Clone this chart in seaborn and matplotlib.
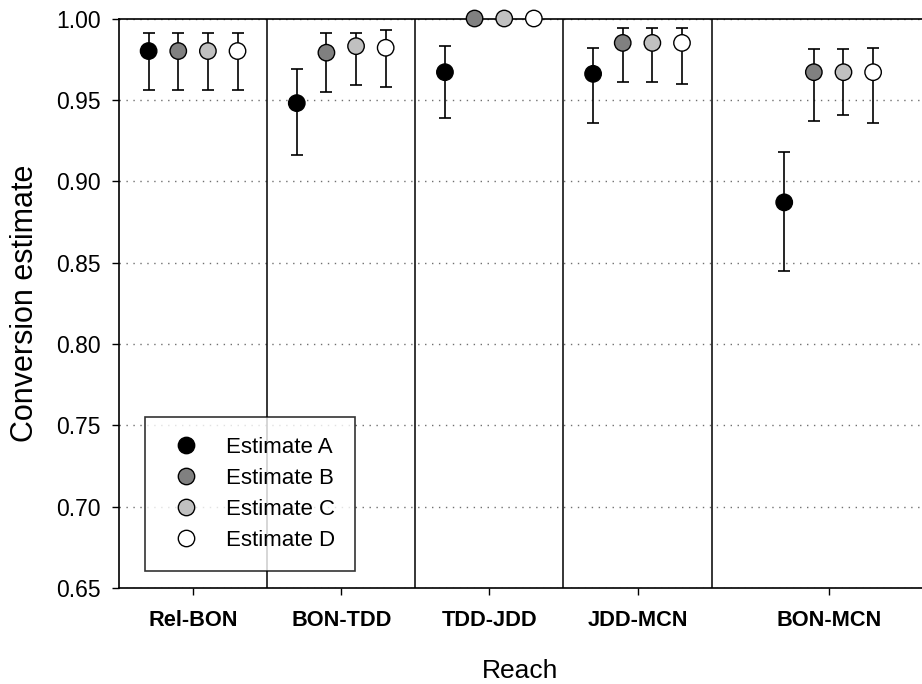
#!/usr/bin/env python3
"""
Conversion estimates per reach (A-D) with error bars
"""

import numpy as np
import pandas as pd
import matplotlib
matplotlib.use('Agg')
import matplotlib.pyplot as plt
from matplotlib.lines import Line2D
import seaborn as sns

# Datos
reaches = ['Rel-BON', 'BON-TDD', 'TDD-JDD', 'JDD-MCN', 'BON-MCN']
reach_pos = [0, 1, 2, 3, 4.29]
estimates = ['Estimate A', 'Estimate B', 'Estimate C', 'Estimate D']

est_a = [0.980, 0.948, 0.967, 0.966, 0.887]
est_a_lo = [0.956, 0.916, 0.939, 0.936, 0.845]
est_a_hi = [0.991, 0.969, 0.983, 0.982, 0.918]

est_b = [0.980, 0.979, 1.000, 0.985, 0.967]
est_b_lo = [0.956, 0.955, np.nan, 0.961, 0.937]
est_b_hi = [0.991, 0.991, np.nan, 0.994, 0.981]

est_c = [0.980, 0.983, 1.000, 0.985, 0.967]
est_c_lo = [0.956, 0.959, np.nan, 0.961, 0.941]
est_c_hi = [0.991, 0.991, np.nan, 0.994, 0.981]

est_d = [0.980, 0.982, 1.000, 0.985, 0.967]
est_d_lo = [0.956, 0.958, np.nan, 0.960, 0.936]
est_d_hi = [0.991, 0.993, np.nan, 0.994, 0.982]

colors = {'Estimate A': 'black', 'Estimate B': '#808080',
          'Estimate C': '#c0c0c0', 'Estimate D': 'white'}
offsets = [-0.3, -0.1, 0.1, 0.3]

# Construir tabla larga
rows = []
series = [(est_a, est_a_lo, est_a_hi), (est_b, est_b_lo, est_b_hi),
          (est_c, est_c_lo, est_c_hi), (est_d, est_d_lo, est_d_hi)]
for name, off, (vals, lo, hi) in zip(estimates, offsets, series):
    for i, r in enumerate(reaches):
        rows.append({'Reach': r, 'Estimate': name, 'x': reach_pos[i] + off,
                     'value': vals[i], 'lo': lo[i], 'hi': hi[i]})
df = pd.DataFrame(rows)

sns.set_style('white')
plt.rcParams['font.family'] = ['Liberation Sans', 'DejaVu Sans']
plt.rcParams['text.color'] = 'black'
plt.rcParams['axes.labelcolor'] = 'black'
plt.rcParams['xtick.color'] = 'black'
plt.rcParams['ytick.color'] = 'black'

fig = plt.figure(figsize=(9.22, 6.84), dpi=100)
ax = fig.add_axes([119 / 922, 1 - 588 / 684, 1 - 119 / 922, (588 - 18.5) / 684])

# Lineas de cuadricula punteadas
ax.yaxis.grid(True, linestyle=(0, (1, 4)), color='#707070', linewidth=1)
ax.set_axisbelow(True)

# Separadores entre tramos
for sep in [0.5, 1.5, 2.5, 3.5]:
    ax.axvline(sep, color='black', linewidth=1.1, zorder=1.5)

# Barras de error
for name in estimates:
    sub = df[df['Estimate'] == name]
    ax.errorbar(sub['x'], sub['value'],
                yerr=[sub['value'] - sub['lo'], sub['hi'] - sub['value']],
                fmt='none', ecolor='black', elinewidth=1.2, capsize=4,
                capthick=1.2, zorder=2)

sns.scatterplot(data=df, x='x', y='value', hue='Estimate', palette=colors,
                hue_order=estimates, s=140, edgecolor='black', linewidth=1,
                legend=False, ax=ax, zorder=3, clip_on=False)

ax.set_xlim(-0.5, 4.92)
ax.set_ylim(0.65, 1.00)
ax.set_yticks(np.arange(0.65, 1.001, 0.05))
ax.set_yticklabels([f'{v:.2f}' for v in np.arange(0.65, 1.001, 0.05)])
ax.set_xticks(reach_pos)
ax.set_xticklabels(reaches, fontweight='bold')

ax.tick_params(axis='y', direction='out', length=5, width=1, labelsize=16.5,
               pad=8, left=True)
ax.tick_params(axis='x', direction='out', length=5, width=1, labelsize=15.7,
               pad=11, bottom=True)

for side in ['left', 'top', 'bottom']:
    ax.spines[side].set_color('black')
    ax.spines[side].set_linewidth(1.2)
ax.spines['right'].set_visible(False)

ax.set_xlabel('Reach', fontsize=19, labelpad=20)
ax.set_ylabel('Conversion estimate', fontsize=22, labelpad=12)

# Leyenda
handles = [Line2D([0], [0], marker='o', linestyle='none', markersize=11.8,
                  markerfacecolor=colors[n], markeredgecolor='black',
                  markeredgewidth=1) for n in estimates]
leg = ax.legend(handles, estimates, loc='lower left',
                bbox_to_anchor=(0.033, 0.03), borderaxespad=0,
                fontsize=16, frameon=True, fancybox=False, handletextpad=0.82,
                labelspacing=0.45, borderpad=0.9, handlelength=1.89)
leg.get_frame().set_edgecolor('black')
leg.get_frame().set_linewidth(1.2)

fig.savefig('out.png', dpi=100)
plt.close(fig)
